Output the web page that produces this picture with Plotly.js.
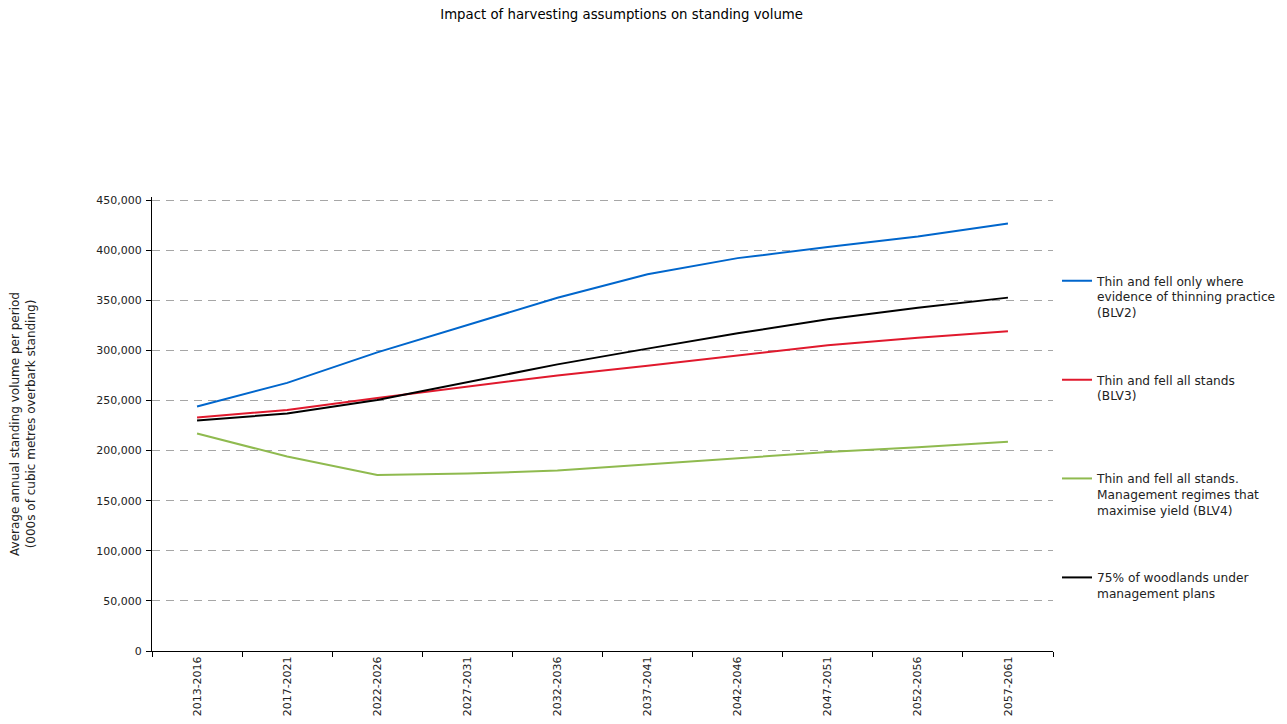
<!DOCTYPE html>
<html>
<head>
<meta charset="utf-8">
<script src="https://cdn.plot.ly/plotly-3.0.1.min.js"></script>
<style>
  html, body { margin: 0; padding: 0; background: #fff; }
  #chart { width: 1287px; height: 724px; }
</style>
</head>
<body>
<div id="chart"></div>
<script>
// Five-year periods
const periods = ["2013-2016", "2017-2021", "2022-2026", "2027-2031", "2032-2036",
                 "2037-2041", "2042-2046", "2047-2051", "2052-2056", "2057-2061"];

// Average annual standing volume per period (000s m³ overbark standing)
const blv2 = [244000, 267500, 298000, 325500, 352500, 376000, 392000, 403000, 413500, 426500];
const blv3 = [233000, 240500, 252500, 264000, 275000, 284700, 295000, 305000, 312500, 319000];
const blv4 = [217000, 194000, 175600, 177000, 180000, 186300, 192600, 198500, 203300, 208800];
const plans75 = [230000, 237000, 250500, 268000, 286000, 301700, 317000, 331000, 342500, 352600];

const seriesNames = [
  "Thin and fell only where<br>evidence of thinning practice<br>(BLV2)",
  "Thin and fell all stands<br>(BLV3)",
  "Thin and fell all stands.<br>Management regimes that<br>maximise yield (BLV4)",
  "75% of woodlands under<br>management plans"
];
const seriesColors = ["#0066cc", "#e0192d", "#8fba4f", "#000000"];
const seriesValues = [blv2, blv3, blv4, plans75];
const legendIds = ["legend", "legend2", "legend3", "legend4"];
// legend block tops, as fractions of the page height from the bottom
const legendTops = [0.632, 0.4953, 0.3591, 0.2224];

const FONT = "DejaVu Sans, Verdana, sans-serif";

const traces = seriesValues.map((vals, i) => ({
  type: "scatter",
  mode: "lines",
  x: periods,
  y: vals,
  name: seriesNames[i],
  legend: legendIds[i],
  line: { color: seriesColors[i], width: 2 },
  hoverinfo: "x+y"
}));

const layout = {
  width: 1287,
  height: 724,
  paper_bgcolor: "#ffffff",
  plot_bgcolor: "#ffffff",
  font: { family: FONT, size: 11, color: "#222222" },
  // a few px of headroom above the 450,000 line so its gridline is kept
  margin: { l: 152, r: 234, t: 197, b: 73, pad: 0 },
  title: {
    text: "Impact of harvesting assumptions on standing volume",
    font: { family: FONT, size: 13.3, color: "#000000" },
    x: 0.483, xref: "container", xanchor: "center",
    y: 0.98, yref: "container", yanchor: "middle"
  },
  xaxis: {
    type: "category",
    range: [-0.5, 9.5],
    tickangle: -90,
    tickson: "boundaries",
    ticks: "outside",
    ticklen: 5,
    tickcolor: "#000000",
    showline: true,
    linecolor: "#000000",
    linewidth: 1,
    showgrid: false,
    zeroline: false,
    tickfont: { family: FONT, size: 11, color: "#222222" }
  },
  yaxis: {
    range: [0, 453000],
    tick0: 0,
    dtick: 50000,
    tickformat: ",d",
    ticks: "outside",
    ticklen: 5,
    tickcolor: "#000000",
    ticklabelstandoff: 2,
    showline: true,
    linecolor: "#000000",
    linewidth: 1,
    showgrid: true,
    gridcolor: "#a6a6a6",
    griddash: "8px,6px",
    gridwidth: 1,
    zeroline: false,
    tickfont: { family: FONT, size: 11, color: "#222222" },
    title: {
      text: "Average annual standing volume per period<br>(000s of cubic metres overbark standing)",
      font: { family: FONT, size: 12, color: "#222222" },
      standoff: 58
    },
    automargin: false
  },
  showlegend: true
};

legendIds.forEach((id, i) => {
  layout[id] = {
    xref: "container", yref: "container",
    x: 0.8213, xanchor: "left",
    y: legendTops[i], yanchor: "top",
    valign: "top",
    bgcolor: "rgba(0,0,0,0)",
    borderwidth: 0,
    itemwidth: 30,
    font: { family: FONT, size: 12.2, color: "#222222" }
  };
});

Plotly.newPlot("chart", traces, layout, { displayModeBar: false, responsive: false });
</script>
</body>
</html>
